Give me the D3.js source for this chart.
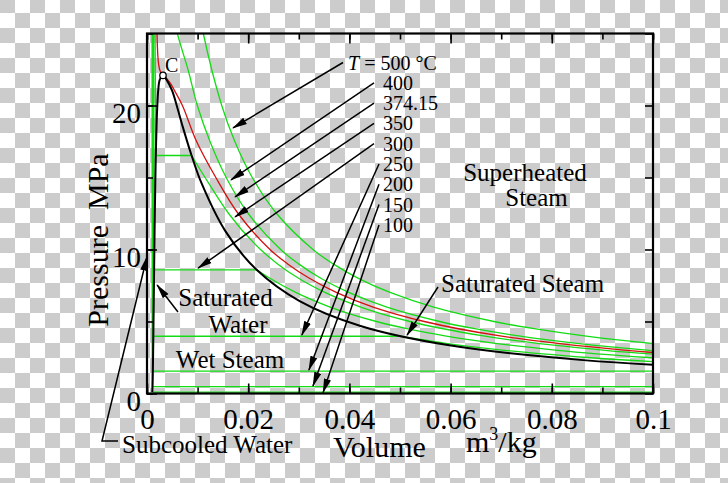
<!DOCTYPE html>
<html>
  <head>
    <meta charset="utf-8">
    <title>Water p-v diagram</title>
    <script src="https://d3js.org/d3.v7.min.js"></script>
    <style>
      body { margin: 0; background: #fff; }
      svg { display: block; font-family: "Liberation Serif", "Times New Roman", serif; }
      .iso { fill: none; stroke: #14dc14; stroke-width: 1.3; }
      .crit { fill: none; stroke: #d41010; stroke-width: 1.3; }
      .dome { fill: none; stroke: #000; stroke-width: 2; }
      .frame { fill: none; stroke: #000; stroke-width: 2.2; }
      .axis path { display: none; }
      .axis line { stroke: #000; stroke-width: 1.6; }
      .axis text { font-size: 29px; fill: #000; font-family: "Liberation Serif", serif; }
      .arrow { stroke: #000; stroke-width: 1.5; fill: none; }
      .lab { font-size: 25px; fill: #000; }
      .tlab { font-size: 20px; fill: #000; }
      .title { font-size: 30px; fill: #000; }
    </style>
  </head>
  <body>
    <svg id="chart" width="728" height="483"></svg>
    <script>
      // saturation table: T (°C), P (MPa), vf and vg (m3/kg)
      const satT  = [100, 120, 140, 160, 180, 200, 220, 240, 260, 280, 300, 320, 340, 350, 360, 365, 370, 373, 374.15];
      const satP  = [0.1014, 0.1985, 0.3613, 0.6178, 1.0021, 1.5538, 2.3178, 3.3447, 4.6894, 6.416, 8.5879, 11.274, 14.586, 16.529, 18.666, 19.82, 21.044, 21.8, 22.09];
      const satVf = [0.001043, 0.00106, 0.00108, 0.001102, 0.001127, 0.001157, 0.00119, 0.001229, 0.001276, 0.001332, 0.001404, 0.001499, 0.001638, 0.00174, 0.001895, 0.002015, 0.002217, 0.00253, 0.00316];
      const satVg = [1.672, 0.8919, 0.5089, 0.3071, 0.19405, 0.12736, 0.08619, 0.05976, 0.04221, 0.03017, 0.02167, 0.01549, 0.0108, 0.008813, 0.006945, 0.006013, 0.004947, 0.00385, 0.00316];

      // subcritical isotherms: temperature, saturation pressure, compressed liquid v at 25 MPa, vf, vg
      const subT    = [350, 300, 250, 200, 150, 100];
      const subPsat = [16.529, 8.5879, 3.976, 1.5538, 0.4762, 0.1014];
      const subVl25 = [0.001597, 0.00133, 0.00121, 0.001139, 0.001077, 0.001032];
      const subVf   = [0.00174, 0.001404, 0.001252, 0.001157, 0.001091, 0.001043];
      const subVg   = [0.008813, 0.02167, 0.05013, 0.12736, 0.3925, 1.672];

      // superheated branches [v (m3/kg), P (MPa)]
      const sup350 = [[0.008813, 16.529], [0.01148, 15], [0.01613, 12.5], [0.02243, 10], [0.02581, 9], [0.02996, 8], [0.03526, 7], [0.04224, 6], [0.05194, 5], [0.06647, 4], [0.09056, 3], [0.10976, 2.5]];
      const sup300 = [[0.02167, 8.5879], [0.02428, 8], [0.02949, 7], [0.03619, 6], [0.04535, 5], [0.05138, 4.5], [0.05887, 4], [0.06842, 3.5], [0.08116, 3], [0.09894, 2.5], [0.12551, 2]];
      const sup250 = [[0.05013, 3.976], [0.05873, 3.5], [0.07058, 3], [0.087, 2.5], [0.1115, 2]];

      // supercritical isotherms [v, P]
      const iso500 = [[0.00868, 30], [0.01113, 25], [0.01477, 20], [0.01736, 17.5], [0.0208, 15], [0.02561, 12.5], [0.0328, 10], [0.03679, 9], [0.04177, 8], [0.04816, 7], [0.05667, 6], [0.06857, 5], [0.07652, 4.5], [0.08644, 4], [0.0992, 3.5], [0.11619, 3]];
      const iso400 = [[0.002831, 30], [0.006004, 25], [0.0081, 22.5], [0.00995, 20], [0.01245, 17.5], [0.01565, 15], [0.02, 12.5], [0.02641, 10], [0.02996, 9], [0.03434, 8], [0.03997, 7], [0.04742, 6], [0.05784, 5], [0.06477, 4.5], [0.07343, 4], [0.08456, 3.5], [0.09938, 3], [0.12012, 2.5]];
      const isoCrit = [[0.00179, 30], [0.001978, 25], [0.00225, 23], [0.0026, 22.4], [0.00316, 22.09], [0.0037, 21.95], [0.0045, 21.6], [0.0055, 21], [0.007, 20], [0.0098, 17.5], [0.0136, 15], [0.018, 12.5], [0.0243, 10], [0.0278, 9], [0.0321, 8], [0.0375, 7], [0.0447, 6], [0.0548, 5], [0.0698, 4], [0.0948, 3], [0.1148, 2.5]];

      // temperature labels
      const tLabels = ["500", "400", "374.15", "350", "300", "250", "200", "150", "100"];
      // where each label's arrow points [v, P]
      const tTips = [[0.017, 18.44], [0.0166, 14.83], [0.0174, 13.65], [0.0174, 12.26], [0.0101, 8.7], [0.0306, 4.06], [0.032, 1.63], [0.0328, 0.52], [0.0348, 0.06]];

      const xTicks = [0, 0.02, 0.04, 0.06, 0.08, 0.1];
      const yTicks = [0, 10, 20];

      const svg = d3.select("#chart");
      const pl = 147, pr = 653, pt = 33.5, pb = 393.5;

      // checkerboard backdrop
      const s = 15;
      const defs = svg.append("defs");
      const pat = defs.append("pattern")
        .attr("id", "checker")
        .attr("patternUnits", "userSpaceOnUse")
        .attr("width", 2 * s).attr("height", 2 * s)
        .attr("patternTransform", "translate(0,-2)");
      pat.append("rect").attr("width", 2 * s).attr("height", 2 * s).attr("fill", "#fff");
      pat.append("rect").attr("width", s).attr("height", s).attr("fill", "#cccccc");
      pat.append("rect").attr("x", s).attr("y", s).attr("width", s).attr("height", s).attr("fill", "#cccccc");
      svg.append("rect").attr("width", 728).attr("height", 483).attr("fill", "url(#checker)");

      defs.append("clipPath").attr("id", "plotClip")
        .append("rect").attr("x", pl).attr("y", pt).attr("width", pr - pl).attr("height", pb - pt);

      const marker = defs.append("marker")
        .attr("id", "head")
        .attr("markerUnits", "userSpaceOnUse")
        .attr("viewBox", "0 -4 15 8")
        .attr("refX", 14).attr("refY", 0)
        .attr("markerWidth", 15).attr("markerHeight", 8)
        .attr("orient", "auto");
      marker.append("path").attr("d", "M0,-3.6L15,0L0,3.6Z").attr("fill", "#000");

      const x = d3.scaleLinear().domain([0, 0.1]).range([pl, pr]);
      const y = d3.scaleLinear().domain([0, 25]).range([pb, pt]);

      const lin = d3.line().x(d => x(d[0])).y(d => y(d[1]));
      const smooth = d3.line().x(d => x(d[0])).y(d => y(d[1])).curve(d3.curveMonotoneX);
      const cr = d3.line().x(d => x(d[0])).y(d => y(d[1])).curve(d3.curveCatmullRom.alpha(0.5));

      const plot = svg.append("g").attr("clip-path", "url(#plotClip)");

      // subcritical isotherms: liquid leg + horizontal leg
      subT.forEach(function(t, i) {
        plot.append("path").attr("class", "iso")
          .attr("d", lin([[subVl25[i], 25], [subVf[i], subPsat[i]], [subVg[i], subPsat[i]]]));
      });
      [sup350, sup300, sup250].forEach(function(d) {
        plot.append("path").attr("class", "iso").attr("d", smooth(d));
      });
      [iso500, iso400].forEach(function(d) {
        plot.append("path").attr("class", "iso").attr("d", cr(d));
      });
      plot.append("path").attr("class", "crit").attr("d", cr(isoCrit));

      // saturation dome
      const dome = satVf.map((v, i) => [v, satP[i]])
        .concat(satVg.map((v, i) => [v, satP[i]]).reverse().slice(1));
      plot.append("path").attr("class", "dome").attr("d", cr(dome));

      // axes, ticks pointing inward
      const minorX = d3.range(0, 0.1001, 0.01);
      const minorY = d3.range(0, 25.1, 5);
      svg.append("g").attr("class", "axis").attr("transform", "translate(0," + pb + ")")
        .call(d3.axisBottom(x).tickValues(minorX).tickSize(-6).tickFormat(""));
      svg.append("g").attr("class", "axis").attr("transform", "translate(0," + pb + ")")
        .call(d3.axisBottom(x).tickValues(xTicks).tickSize(-10).tickPadding(15)
          .tickFormat(d => d === 0 ? "0" : d3.format("~g")(d)));
      svg.append("g").attr("class", "axis").attr("transform", "translate(0," + pt + ")")
        .call(d3.axisTop(x).tickValues(minorX).tickSize(-6).tickFormat(""));
      svg.append("g").attr("class", "axis").attr("transform", "translate(0," + pt + ")")
        .call(d3.axisTop(x).tickValues(xTicks).tickSize(-10).tickFormat(""));
      svg.append("g").attr("class", "axis").attr("transform", "translate(" + pl + ",0)")
        .call(d3.axisLeft(y).tickValues(minorY).tickSize(-6).tickFormat(""));
      svg.append("g").attr("class", "axis").attr("transform", "translate(" + pl + ",0)")
        .call(d3.axisLeft(y).tickValues(yTicks).tickSize(-10).tickPadding(6))
        .selectAll("text").attr("dy", "0.57em");
      svg.append("g").attr("class", "axis").attr("transform", "translate(" + pr + ",0)")
        .call(d3.axisRight(y).tickValues(minorY).tickSize(-8).tickFormat(""));

      svg.append("rect").attr("class", "frame")
        .attr("x", pl).attr("y", pt).attr("width", pr - pl).attr("height", pb - pt);

      // critical point
      svg.append("circle").attr("cx", x(0.00316)).attr("cy", y(22.09)).attr("r", 3.2)
        .attr("fill", "#fff").attr("stroke", "#000").attr("stroke-width", 1.3);
      svg.append("text").attr("class", "tlab").attr("x", 165).attr("y", 71.5).text("C");

      // temperature labels with arrows
      const tY = d3.range(tLabels.length).map(i => 69.5 + i * 20.3);
      const t0 = svg.append("text").attr("class", "tlab").attr("x", 348).attr("y", tY[0]);
      t0.append("tspan").attr("font-style", "italic").text("T");
      t0.append("tspan").text(" = 500 °C");
      tLabels.slice(1).forEach(function(t, i) {
        svg.append("text").attr("class", "tlab").attr("x", 383).attr("y", tY[i + 1]).text(t);
      });
      const tTails = tY.map((ty, i) => [i === 0 ? 343 : (i < 5 ? 374 : 379), ty - 7]);
      tTips.forEach(function(d, i) {
        svg.append("line").attr("class", "arrow")
          .attr("x1", tTails[i][0]).attr("y1", tTails[i][1])
          .attr("x2", x(d[0])).attr("y2", y(d[1]))
          .attr("marker-end", "url(#head)");
      });

      // region labels
      svg.append("text").attr("class", "lab").attr("x", 225.5).attr("y", 306).attr("text-anchor", "middle").text("Saturated");
      svg.append("text").attr("class", "lab").attr("x", 238).attr("y", 333).attr("text-anchor", "middle").text("Water");
      svg.append("text").attr("class", "lab").attr("x", 230).attr("y", 368).attr("text-anchor", "middle").text("Wet Steam");
      svg.append("text").attr("class", "lab").attr("x", 525).attr("y", 181).attr("text-anchor", "middle").attr("font-size", "26px").text("Superheated");
      svg.append("text").attr("class", "lab").attr("x", 536.5).attr("y", 206).attr("text-anchor", "middle").text("Steam");
      svg.append("text").attr("class", "lab").attr("x", 441).attr("y", 292).text("Saturated Steam");
      svg.append("text").attr("class", "lab").attr("x", 122).attr("y", 453).text("Subcooled Water");

      svg.append("line").attr("class", "arrow")
        .attr("x1", 178).attr("y1", 312).attr("x2", x(0.002)).attr("y2", y(7.53))
        .attr("marker-end", "url(#head)");
      svg.append("line").attr("class", "arrow")
        .attr("x1", 438).attr("y1", 287).attr("x2", x(0.0514)).attr("y2", y(4.06))
        .attr("marker-end", "url(#head)");
      svg.append("path").attr("class", "arrow")
        .attr("d", "M118,441L102,441L" + x(0) + "," + y(9.5))
        .attr("marker-end", "url(#head)");

      // axis titles
      const vol = svg.append("text").attr("class", "title").attr("x", 333).attr("y", 457);
      vol.append("tspan").text("Volume");
      const unit = svg.append("text").attr("class", "title").attr("x", 466).attr("y", 452);
      unit.append("tspan").text("m");
      unit.append("tspan").attr("font-size", "18px").attr("dy", "-12").text("3");
      unit.append("tspan").attr("dy", "12").text("/kg");
      svg.append("text").attr("class", "title")
        .attr("transform", "translate(108," + 240 + ") rotate(-90)")
        .attr("text-anchor", "middle")
        .attr("xml:space", "preserve")
        .text("Pressure  MPa");
    </script>
  </body>
</html>
